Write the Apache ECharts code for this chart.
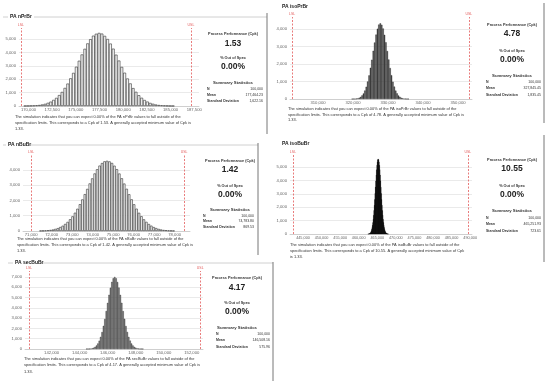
<!DOCTYPE html>
<html><head><meta charset="utf-8">
<script src="https://cdn.jsdelivr.net/npm/echarts@6/dist/echarts.min.js"></script>
<style>html,body{margin:0;padding:0;background:#fff}#c{width:550px;height:381px}</style>
</head><body><div id="c"></div>
<script>
const FONT = '"Liberation Sans", Arial, sans-serif';

// ---------- DATA ----------
// PA nPrBr
const nprbrBinStart = 169650, nprbrBinWidth = 300;
const nprbrCounts = [7,12,21,33,50,76,113,160,236,324,455,606,815,1048,1347,1672,2066,2470,2930,3377,3846,4266,4671,4985,5247,5389,5452,5401,5232,4998,4657,4280,3829,3390,2915,2484,2054,1684,1336,1057,804,614,447,330,229,165,109,74,48,31,19,11,6];
const nprbrXTicks = [170000,172500,175000,177500,180000,182500,185000,187500];
const nprbrYTicks = [0,1000,2000,3000,4000,5000];
const nprbrSpec = [169200, 187150];
const nprbrStats = {cpk:'1.53', oos:'0.00%', n:'100,000', mean:'177,464.23', sd:'1,622.16'};

// PA isoPrBr
const isoprbrBinStart = 319800, isoprbrBinWidth = 400;
const isoprbrCounts = [3,6,12,24,41,74,122,205,316,485,702,1001,1350,1786,2247,2758,3232,3685,4019,4258,4331,4247,4034,3671,3246,2744,2260,1773,1362,990,710,478,321,199,126,71,43,22,13,5,3];
const isoprbrXTicks = [310000,320000,330000,340000,350000];
const isoprbrYTicks = [0,1000,2000,3000,4000];
const isoprbrSpec = [302600, 353100];
const isoprbrStats = {cpk:'4.78', oos:'0.00%', n:'100,000', mean:'327,845.45', sd:'1,835.45'};

// PA nBuBr
const nbubrBinStart = 71460, nbubrBinWidth = 120;
const nbubrCounts = [14,20,31,46,69,96,139,188,261,346,462,596,769,962,1199,1457,1757,2070,2415,2758,3117,3448,3772,4046,4285,4452,4566,4598,4560,4459,4279,4052,3766,3455,3109,2766,2409,2076,1750,1463,1193,968,763,600,458,350,257,192,136,98,67,48,32,21,13];
const nbubrXTicks = [71000,72000,73000,74000,75000,76000,77000,78000];
const nbubrYTicks = [0,1000,2000,3000,4000];
const nbubrSpec = [71000, 78460];
const nbubrStats = {cpk:'1.42', oos:'0.00%', n:'100,000', mean:'74,783.80', sd:'869.53'};

// PA isoBuBr
const isobubrBinStart = 462550, isobubrBinWidth = 100;
const isobubrCounts = [5,9,14,23,36,54,84,121,179,252,355,483,654,858,1115,1411,1763,2150,2586,3035,3509,3966,4412,4803,5142,5388,5549,5601,5544,5393,5135,4809,4405,3973,3502,3041,2580,2156,1758,1416,1110,862,650,487,351,255,176,123,82,56,35,24,13,8,5];
const isobubrXTicks = [445000,450000,455000,460000,465000,470000,475000,480000,485000,490000];
const isobubrYTicks = [0,1000,2000,3000,4000,5000];
const isobubrSpec = [442300, 489400];
const isobubrStats = {cpk:'10.55', oos:'0.00%', n:'100,000', mean:'465,251.93', sd:'723.61'};

// PA secBuBr
const secbubrBinStart = 144500, secbubrBinWidth = 100;
const secbubrCounts = [6,11,23,40,74,127,215,344,541,810,1183,1651,2245,2921,3694,4481,5270,5958,6524,6872,7003,6880,6513,5970,5258,4492,3683,2933,2236,1660,1177,815,537,348,212,129,72,42,21,12,5];
const secbubrXTicks = [142000,144000,146000,148000,150000,152000];
const secbubrYTicks = [0,1000,2000,3000,4000,5000,6000,7000];
const secbubrSpec = [140390, 152600];
const secbubrStats = {cpk:'4.17', oos:'0.00%', n:'100,000', mean:'146,508.16', sd:'575.96'};

// ---------- LAYOUT ----------
const panels = [
  {name:'nPrBr', start:nprbrBinStart, width:nprbrBinWidth, counts:nprbrCounts, xt:nprbrXTicks, yt:nprbrYTicks, spec:nprbrSpec, stats:nprbrStats,
   grid:{left:19, top:28, width:180, height:78}, xmin:169000, xmax:188000, ymax:5820,
   fill:'#f4f4f4', border:'#333', bw:0.6, xfs:4.2,
   title:[10,17], st:{cx:233,l:207,r:263,y:[34,43.5,58,67,83,89,95,101]}, desc:[15,117,6],
   line2:'specification limits. This corresponds to a Cpk of 1.53. A generally accepted minimum value of Cpk is', line3:'1.33.'},
  {name:'isoPrBr', start:isoprbrBinStart, width:isoprbrBinWidth, counts:isoprbrCounts, xt:isoprbrXTicks, yt:isoprbrYTicks, spec:isoprbrSpec, stats:isoprbrStats,
   grid:{left:290, top:17, width:182, height:82}, xmin:302000, xmax:354000, ymax:4690,
   fill:'#4a4a4a', border:'#2a2a2a', bw:0.4, xfs:4.2,
   title:[282,7], st:{cx:512,l:486,r:541,y:[25,33.5,51,60,76,82,88.5,95]}, desc:[288,109,5.6],
   line2:'specification limits. This corresponds to a Cpk of 4.78. A generally accepted minimum value of Cpk is', line3:'1.33.'},
  {name:'nBuBr', start:nbubrBinStart, width:nbubrBinWidth, counts:nbubrCounts, xt:nbubrXTicks, yt:nbubrYTicks, spec:nbubrSpec, stats:nbubrStats,
   grid:{left:23, top:155, width:167, height:76}, xmin:70600, xmax:78750, ymax:4980,
   fill:'#f4f4f4', border:'#333', bw:0.6, xfs:4.2,
   title:[8,145], st:{cx:230,l:203,r:254,y:[161,169.5,186,194.5,210,216,221.5,227]}, desc:[17,238.5,6],
   line2:'specification limits. This corresponds to a Cpk of 1.42. A generally accepted minimum value of Cpk is', line3:'1.33.'},
  {name:'isoBuBr', start:isobubrBinStart, width:isobubrBinWidth, counts:isobubrCounts, xt:isobubrXTicks, yt:isobubrYTicks, spec:isobubrSpec, stats:isobubrStats,
   grid:{left:290, top:155, width:182, height:79}, xmin:441500, xmax:490500, ymax:5900,
   fill:'#111', border:'#111', bw:0.2, xfs:3.8,
   title:[282,144], st:{cx:512,l:486,r:541,y:[160,169,186,195,211,218,224.5,231]}, desc:[290,245,6],
   line2:'specification limits. This corresponds to a Cpk of 10.55. A generally accepted minimum value of Cpk', line3:'is 1.33.'},
  {name:'secBuBr', start:secbubrBinStart, width:secbubrBinWidth, counts:secbubrCounts, xt:secbubrXTicks, yt:secbubrYTicks, spec:secbubrSpec, stats:secbubrStats,
   grid:{left:25, top:271, width:178, height:78}, xmin:140100, xmax:152800, ymax:7580,
   fill:'#7a7a7a', border:'#3a3a3a', bw:0.45, xfs:4.2,
   title:[15,263], st:{cx:237,l:216,r:270,y:[278,287.5,303,312,328,334,340.5,347]}, desc:[24,359,6.3],
   line2:'specification limits. This corresponds to a Cpk of 4.17. A generally accepted minimum value of Cpk is', line3:'1.33.'}
];

const fmt = v => Math.round(v).toLocaleString('en-US');
const grids = [], xAxes = [], yAxes = [], series = [], graphics = [];

function txt(x, y, s, size, o) {
  o = o || {};
  const align = o.align || 'left', va = o.va || 'middle';
  return {type:'text', x:x, y:y, silent:true, z:10,
    style:{text:s, fontSize:size, fontFamily:FONT, fontWeight:o.weight || 'normal', fill:o.color || '#333',
      align:align, textAlign:align, verticalAlign:va, textVerticalAlign:va}};
}
function ln(x1, y1, x2, y2, color, w) {
  return {type:'line', silent:true, shape:{x1,y1,x2,y2}, style:{stroke:color, lineWidth:w}};
}

panels.forEach((p, i) => {
  grids.push(Object.assign({}, p.grid, {containLabel:false}));
  xAxes.push({type:'value', gridIndex:i, min:p.xmin, max:p.xmax,
    axisLine:{show:true, lineStyle:{color:'#c8c8c8', width:0.8}},
    axisTick:{show:false, customValues:p.xt},
    splitLine:{show:false},
    axisLabel:{customValues:p.xt, formatter:fmt, fontSize:p.xfs, color:'#666', margin:2, fontFamily:FONT}});
  yAxes.push({type:'value', gridIndex:i, min:0, max:p.ymax,
    axisLine:{show:false}, axisTick:{show:false, customValues:p.yt},
    splitLine:{show:true, lineStyle:{color:'#e4e4e4', width:0.8}},
    axisLabel:{customValues:p.yt, formatter:fmt, fontSize:4.2, color:'#666', margin:3, fontFamily:FONT}});
  const data = p.counts.map((c, k) => [p.start + k * p.width, c]);
  series.push({type:'bar', xAxisIndex:i, yAxisIndex:i, data:data, barWidth:'100%',
    itemStyle:{color:p.fill, borderColor:p.border, borderWidth:p.bw}, animation:false, silent:true,
    markLine:{silent:true, symbol:['none','none'], animation:false,
      lineStyle:{color:'#e35b5b', type:[2,1.5], width:0.8},
      label:{show:true, position:'end', formatter:'{b}', fontSize:3.5, color:'#e35b5b', distance:1},
      data:[{name:'LSL', xAxis:p.spec[0]}, {name:'USL', xAxis:p.spec[1]}]}});

  graphics.push(txt(p.title[0], p.title[1], 'PA ' + p.name, 5, {weight:'bold', color:'#222'}));
  const s = p.st, y = s.y;
  graphics.push(txt(s.cx, y[0], 'Process Performance (Cpk)', 3.8, {align:'center', weight:'bold'}));
  graphics.push(txt(s.cx, y[1], p.stats.cpk, 8.5, {align:'center', weight:'bold', color:'#222'}));
  graphics.push(txt(s.cx, y[2], '% Out of Spec', 3.8, {align:'center', weight:'bold'}));
  graphics.push(txt(s.cx, y[3], p.stats.oos, 8.5, {align:'center', weight:'bold', color:'#222'}));
  graphics.push(txt(s.cx, y[4], 'Summary Statistics', 4.3, {align:'center', weight:'bold'}));
  graphics.push(txt(s.l, y[5], 'N', 3.5, {weight:'bold'}));
  graphics.push(txt(s.l, y[6], 'Mean', 3.5, {weight:'bold'}));
  graphics.push(txt(s.l, y[7], 'Standard Deviation', 3.5, {weight:'bold'}));
  graphics.push(txt(s.r, y[5], p.stats.n, 3.5, {align:'right'}));
  graphics.push(txt(s.r, y[6], p.stats.mean, 3.5, {align:'right'}));
  graphics.push(txt(s.r, y[7], p.stats.sd, 3.5, {align:'right'}));
  const d = p.desc;
  const lines = ['The simulation indicates that you can expect ' + p.stats.oos + ' of the PA ' + p.name + ' values to fall outside of the', p.line2, p.line3];
  lines.forEach((l, k) => graphics.push(txt(d[0], d[1] + k * d[2], l, 3.95, {color:'#333'})));
});

graphics.push(ln(3, 17, 8, 17, '#c4c4c4', 0.8), ln(34, 17, 267, 17, '#c4c4c4', 0.8));
graphics.push(ln(3, 145, 6, 145, '#c4c4c4', 0.8), ln(30, 145, 258, 145, '#c4c4c4', 0.8));
graphics.push(ln(8, 263, 13, 263, '#c4c4c4', 0.8), ln(40, 263, 273, 263, '#c4c4c4', 0.8));
graphics.push(ln(267, 13, 267, 134, '#777', 1));
graphics.push(ln(258, 143, 258, 255, '#777', 1));
graphics.push(ln(273, 262, 273, 381, '#777', 1));
graphics.push(ln(544, 3, 544, 123, '#777', 1));
graphics.push(ln(544, 135, 544, 262, '#777', 1));

const chart = echarts.init(document.getElementById('c'), null, {renderer:'canvas'});
chart.setOption({animation:false, backgroundColor:'#fff', grid:grids, xAxis:xAxes, yAxis:yAxes, series:series, graphic:{elements:graphics}});
</script></body></html>
